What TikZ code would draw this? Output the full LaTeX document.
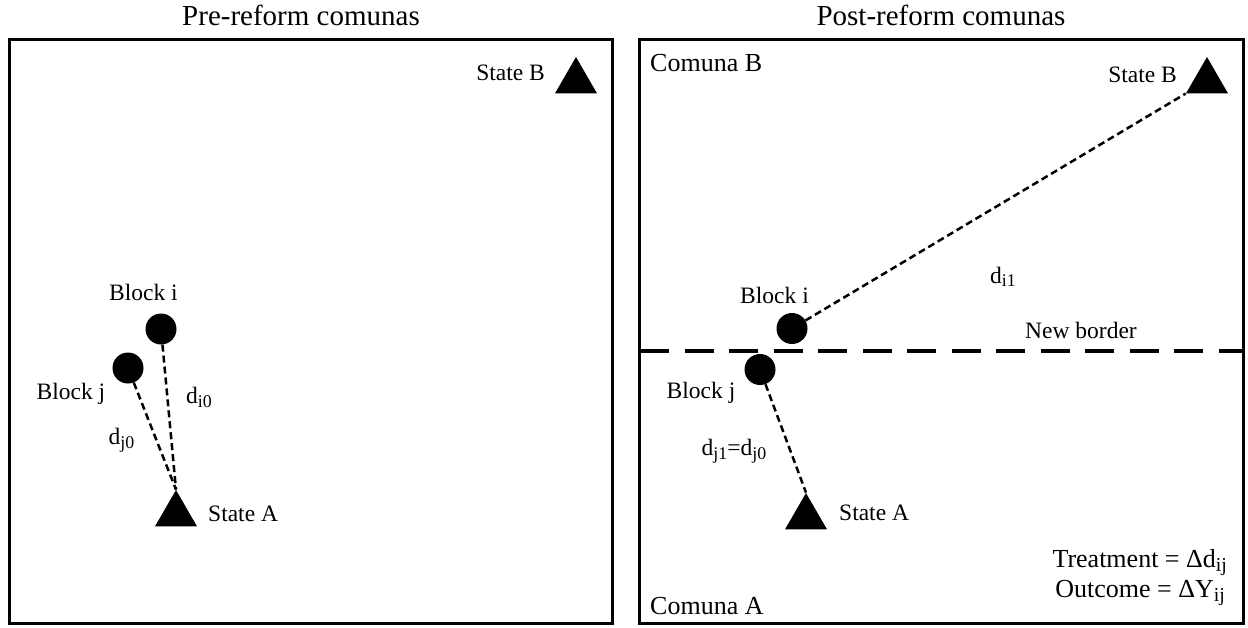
\documentclass[tikz,border=0pt]{standalone}
\usepackage{fontspec}
\usepackage{graphicx}
\setmainfont{Liberation Serif}
\usetikzlibrary{shapes.geometric}
\newcommand\sbs[1]{\raisebox{-0.17em}{\scalebox{0.76}{#1}}}
\begin{document}
\begin{tikzpicture}[x=1pt,y=-1pt,
  frame/.style={line width=3pt},
  blk/.style={circle,fill=black,minimum size=31pt,inner sep=0pt},
  tri/.style={regular polygon,regular polygon sides=3,fill=black,minimum size=48.5pt,inner sep=0pt},
  lab/.style={font=\fontsize{23.5}{28}\selectfont,inner sep=0pt},
  big/.style={font=\fontsize{26}{31}\selectfont,inner sep=0pt},
  ttl/.style={font=\fontsize{29}{34}\selectfont,inner sep=0pt},
  dist/.style={line width=2.5pt,dash pattern=on 7pt off 4pt},
  newborder/.style={line width=3.5pt,dash pattern=on 29pt off 15.5pt}]
\useasboundingbox (0,0) rectangle (1248,627);
% ---------- left panel ----------
\node[ttl,anchor=base] (t1) at (301,25) {Pre-reform comunas};
\draw[frame] (9.5,39.5) rectangle (612.5,623);
\node[tri] (lsb) at (576,81.25) {};
\node[lab,anchor=base east] (lsbl) at (545,80) {State B};
\node[blk] (lbi) at (161,329) {};
\node[lab,anchor=base] (lbil) at (143.5,300) {Block i};
\node[blk] (lbj) at (128,368) {};
\node[lab,anchor=base] (lbjl) at (71,399) {Block j};
\node[tri] (lsa) at (176,514.25) {};
\node[lab,anchor=base west] (lsal) at (208,521) {State A};
\draw[dist] (lbi) -- (lsa.corner 1);
\draw[dist] (lbj) -- (lsa.corner 1);
\node[lab,anchor=base] (ldi) at (199,403) {d\sbs{i0}};
\node[lab,anchor=base] (ldj) at (121.5,444) {d\sbs{j0}};
% ---------- right panel ----------
\node[ttl,anchor=base] (t2) at (941,25) {Post-reform comunas};
\draw[frame] (639.5,39.5) rectangle (1243.5,623);
\node[big,anchor=base west] (cb) at (650,71) {Comuna B};
\node[big,anchor=base west] (ca) at (650,614) {Comuna A};
\node[tri] (rsb) at (1207,81.25) {};
\node[lab,anchor=base east] (rsbl) at (1177,82) {State B};
\node[blk] (rbi) at (792,328.5) {};
\node[lab,anchor=base] (rbil) at (774.5,303) {Block i};
\node[blk] (rbj) at (760,369.5) {};
\node[lab,anchor=base] (rbjl) at (701,398) {Block j};
\node[tri] (rsa) at (806,517.25) {};
\node[lab,anchor=base west] (rsal) at (839,520) {State A};
\coordinate (nbl) at (640,351);
\coordinate (nbr) at (1242,351);
\draw[newborder] (nbl) -- (nbr);
\node[lab,anchor=base] (nbt) at (1081,338) {New border};
\draw[dist] (rbi) -- (rsb.corner 2);
\draw[dist] (rbj) -- (rsa.corner 1);
\node[lab,anchor=base] (rdi) at (1003,283) {d\sbs{i1}};
\node[lab,anchor=base] (rdj) at (734,455) {d\sbs{j1}=d\sbs{j0}};
\node[big,anchor=base east] (trt) at (1227,567) {Treatment = Δd\sbs{ij}};
\node[big,anchor=base east] (otc) at (1225,597) {Outcome = ΔY\sbs{ij}};
\end{tikzpicture}
\end{document}
